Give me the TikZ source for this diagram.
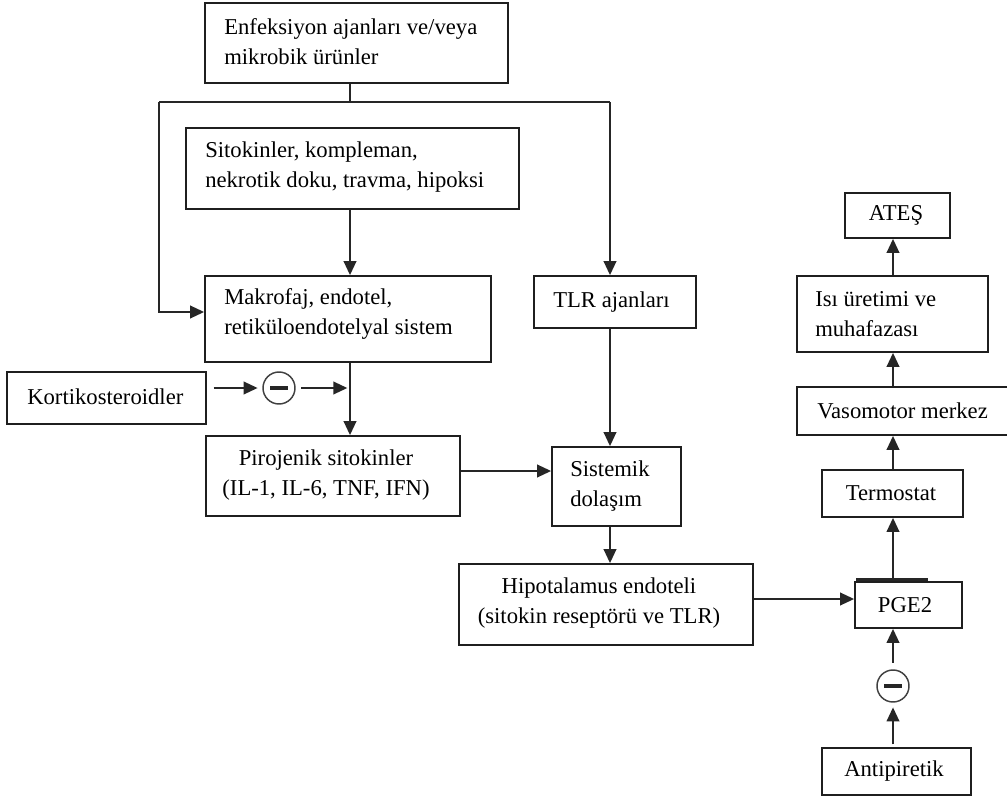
\documentclass[tikz,border=0pt]{standalone}
\usepackage{fontspec}
\setmainfont{Liberation Serif}
\usetikzlibrary{arrows.meta,fit}
\begin{document}
\begin{tikzpicture}[x=0.75pt,y=-0.75pt,
  box/.style={draw=black!88, line width=1.35pt, inner sep=0pt, rectangle},
  txt/.style={inner sep=0pt, font=\fontsize{17pt}{22.5pt}\selectfont, text=black},
  arr/.style={draw=black!85, line width=1.35pt, -{Triangle[length=10.5pt,width=9.5pt]}},
  ln/.style={draw=black!85, line width=1.35pt},
  minus/.style={draw=black!75, line width=1.1pt, circle, minimum size=24pt, inner sep=0pt}]
\useasboundingbox (0,0) rectangle (1007,799);
% boxes
\node[box, fit={(205,3) (508,83)}] (enf) {};
\node[box, fit={(186,128) (519,209)}] (sit) {};
\node[box, fit={(205,276) (491,362)}] (mak) {};
\node[box, fit={(7,372) (206,424)}] (kor) {};
\node[box, fit={(206,436) (460,516)}] (pir) {};
\node[box, fit={(534,276) (696,328)}] (tlr) {};
\node[box, fit={(552,447) (681,526)}] (sis) {};
\node[box, fit={(459,564) (753,645)}] (hip) {};
\node[box, fit={(855,582) (962,628)}] (pge) {};
\node[box, fit={(822,470) (963,517)}] (ter) {};
\node[box, fit={(797,387) (1015,435)}] (vas) {};
\node[box, fit={(797,276) (988,352)}] (isi) {};
\node[box, fit={(845,193) (950,238)}] (ate) {};
\node[box, fit={(822,748) (971,795)}] (ant) {};
% texts
\node[txt, anchor=west, align=left] (enfT) at (224,42) {Enfeksiyon ajanları ve/veya\\mikrobik ürünler};
\node[txt, anchor=west, align=left] (sitT) at (205,167) {Sitokinler, kompleman,\\nekrotik doku, travma, hipoksi};
\node[txt, anchor=west, align=left] (makT) at (224,314) {Makrofaj, endotel,\\retiküloendotelyal sistem};
\node[txt, anchor=west] (korT) at (27,397) {Kortikosteroidler};
\node[txt, align=center] (pirT) at (326,475) {Pirojenik sitokinler\\(IL-1, IL-6, TNF, IFN)};
\node[txt, anchor=west] (tlrT) at (553,302) {TLR ajanları};
\node[txt, anchor=west, align=left] (sisT) at (570,486) {Sistemik\\dolaşım};
\node[txt, align=center] (hipT) at (599,603) {Hipotalamus endoteli\\(sitokin reseptörü ve TLR)};
\node[txt] (pgeT) at (905,605) {PGE2};
\node[txt] (terT) at (891,493) {Termostat};
\node[txt, anchor=west] (vasT) at (817,411) {Vasomotor merkez};
\node[txt, anchor=west, align=left] (isiT) at (815,314) {Isı üretimi ve\\muhafazası};
\node[txt] (ateT) at (896,215) {ATEŞ};
\node[txt] (antT) at (894,771) {Antipiretik};
% inhibition circles
\node[minus] (c1) at (279,388) {};
\draw[line width=2.4pt, black!85] ([xshift=-6.5pt]c1.center) -- ([xshift=6.5pt]c1.center);
\node[minus] (c2) at (893,686) {};
\draw[line width=2.4pt, black!85] ([xshift=-6.5pt]c2.center) -- ([xshift=6.5pt]c2.center);
% junction coordinates
\coordinate (j1) at (350,102);
\coordinate (jl) at (159,102);
\coordinate (jr) at (610,102);
\coordinate (mkin) at (205,312);
\coordinate (kj) at (350,388);
\coordinate (py) at (0,471);
\coordinate (hy) at (0,599);
\coordinate (rx) at (893,0);
% connectors
\draw[ln] (enf.south -| j1) -- (j1);
\draw[ln] (jl) -- (jr);
\draw[arr] (jl) |- (mak.west |- mkin);
\draw[arr] (jr) -- (tlr.north -| jr);
\draw[arr] (sit.south -| j1) -- (mak.north -| j1);
\draw[arr] (mak.south -| j1) -- (pir.north -| j1);
\draw[arr, shorten <=5pt, shorten >=3.5pt] (kor.east |- c1) -- (c1.west);
\draw[arr, shorten <=4pt, shorten >=2pt] (c1.east) -- (kj);
\draw[arr] (pir.east |- py) -- (sis.west |- py);
\draw[arr] (tlr.south -| jr) -- (sis.north -| jr);
\draw[arr] (sis.south -| jr) -- (hip.north -| jr);
\draw[arr] (hip.east |- hy) -- (pge.west |- hy);
\draw[arr] (pge.north -| rx) -- (ter.south -| rx);
\draw[arr] (ter.north -| rx) -- (vas.south -| rx);
\draw[arr] (vas.north -| rx) -- (isi.south -| rx);
\draw[arr] (isi.north -| rx) -- (ate.south -| rx);
\draw[arr, shorten <=5pt] (c2.north) -- (pge.south -| rx);
\draw[arr, shorten <=2pt, shorten >=3.5pt] (ant.north -| rx) -- (c2.south);
% thick mark on top of PGE2
\draw[line width=2.2pt, black!85] ([xshift=1.5pt,yshift=1.4pt]pge.north west) -- ([xshift=-26pt,yshift=1.4pt]pge.north east);
\end{tikzpicture}
\end{document}
